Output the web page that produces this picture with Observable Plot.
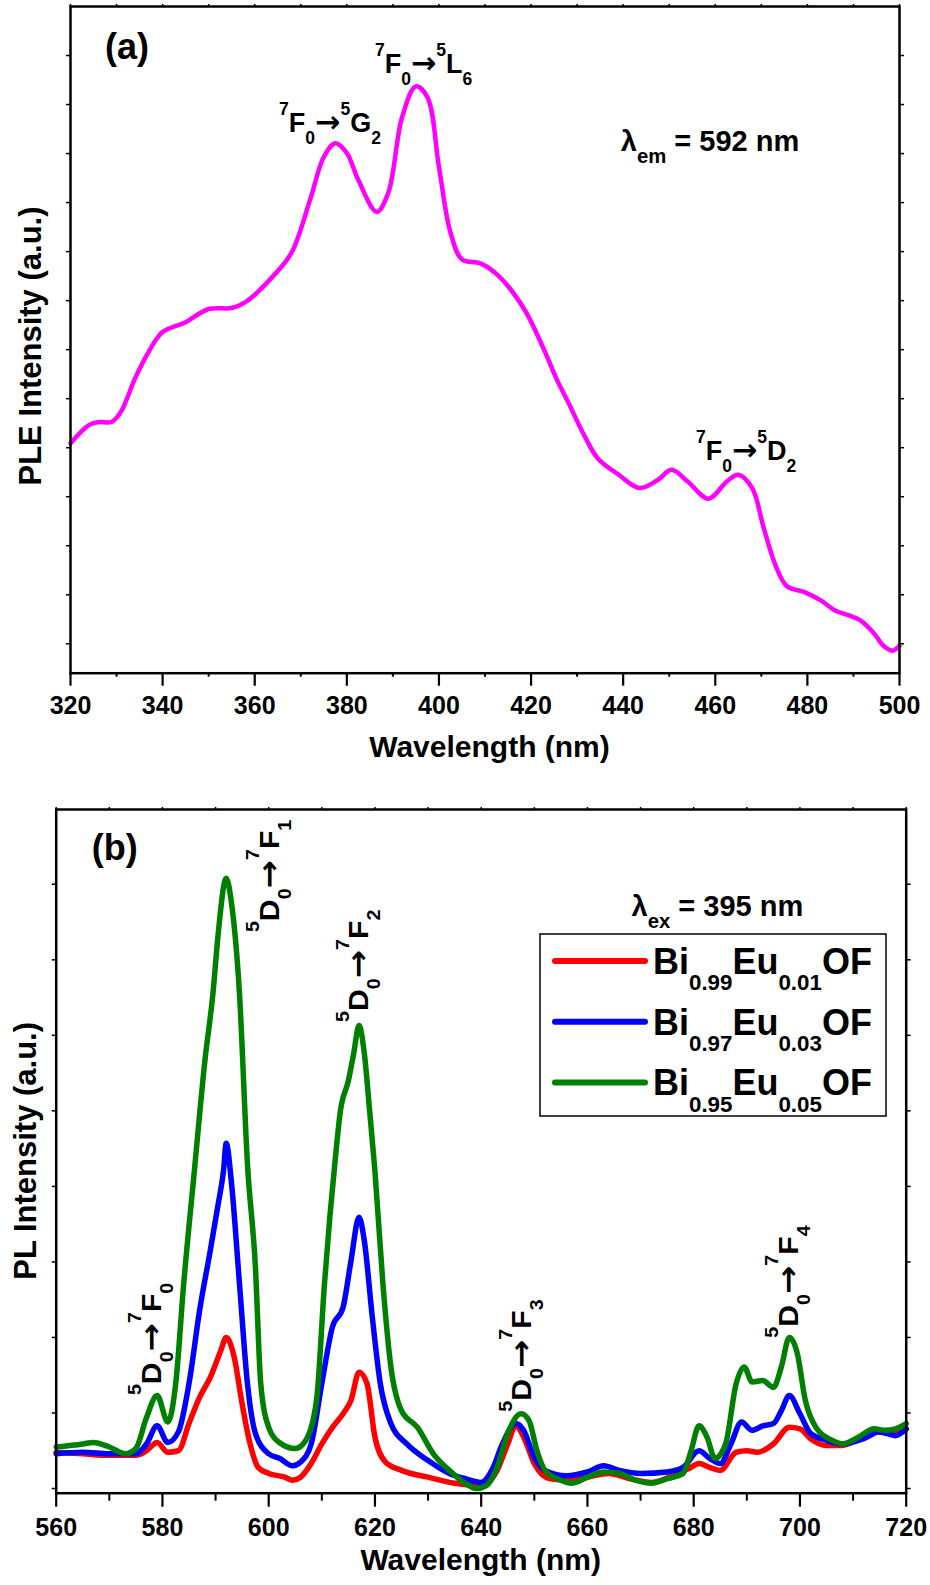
<!DOCTYPE html>
<html><head><meta charset="utf-8">
<script src="https://cdn.jsdelivr.net/npm/d3@7"></script>
<script src="https://cdn.jsdelivr.net/npm/@observablehq/plot@0.6"></script>
<style>
html,body{margin:0;padding:0;background:#fff;}
#wrap{position:relative;width:930px;height:1585px;overflow:hidden;}
#wrap svg{position:absolute;left:0;}
svg text{font-weight:bold;white-space:pre;}
</style></head><body><div id="wrap"></div>
<script>
// ---------- Panel (a): PLE spectrum, lambda_em = 592 nm ----------
const pleWl  = [320,324,326,329,331,334,337,340,345,350,355,358,364,368,372,375,377.5,380,382.5,386.5,389,392,395,397.5,400,402.5,405,409,413,418.5,423,425.5,428,431.5,434.5,439,443.5,447.5,450.5,454,458.5,462.5,465,468,470.5,473,475.5,479.5,483,486,489,491.5,494.5,496.5,498.5,500];
const pleInt = [4.09,4.46,4.52,4.53,4.74,5.41,5.96,6.36,6.56,6.83,6.85,6.97,7.50,7.98,9.05,9.93,10.21,10.01,9.46,8.81,9.20,10.74,11.37,11.15,9.73,8.39,7.84,7.76,7.50,6.83,5.96,5.41,4.94,4.26,3.78,3.45,3.18,3.34,3.55,3.31,2.96,3.31,3.45,3.18,2.37,1.62,1.18,1.05,0.88,0.68,0.58,0.48,0.21,-0.04,-0.14,-0.04];

// ---------- Panel (b): PL spectra, lambda_ex = 395 nm ----------
const redWl   = [560,565,570,575,577,579,581,583,585,587,589,591,592,593.5,595,596.5,598,600,603,604.5,606,608,610,612,614,615.5,617,618.5,620,622,625,630,635,640,643,645,646.5,648,650,653,657,660,664,668,672,676,679,681,683,685,688,690,692,695,698,700,702,705,708,711,714,717,720];
const redInt  = [0.48,0.46,0.44,0.44,0.50,0.61,0.48,0.50,0.86,1.21,1.47,1.83,2.00,1.74,1.12,0.59,0.28,0.20,0.15,0.11,0.15,0.33,0.59,0.81,0.99,1.17,1.54,1.39,0.68,0.35,0.24,0.15,0.07,0.04,0.24,0.59,0.83,0.68,0.33,0.13,0.11,0.15,0.20,0.13,0.08,0.17,0.26,0.33,0.28,0.24,0.48,0.50,0.48,0.59,0.81,0.79,0.66,0.57,0.57,0.66,0.75,0.73,0.79];
const blueWl  = [560,565,570,575,577,579,581,583,585,587,589,590.5,591.5,592,593,594.5,596,597.5,600,602,604.5,606,608,610,612,614,615.5,617,618,619.5,621,623,626,630,634,637,640,642,644,646.5,648,650,652,656,660,663,666,670,675,678,681,683,685,687,689,691,693,695,696.5,698,700,702,705,708,712,715,718,720];
const blueInt = [0.46,0.48,0.46,0.46,0.59,0.83,0.61,0.75,1.39,2.36,3.15,3.77,4.21,4.57,4.04,2.71,1.39,0.73,0.46,0.40,0.30,0.35,0.59,1.39,2.14,2.40,3.02,3.59,3.28,2.27,1.39,0.86,0.59,0.37,0.20,0.13,0.08,0.24,0.59,0.86,0.77,0.41,0.24,0.17,0.22,0.30,0.24,0.20,0.22,0.28,0.50,0.40,0.33,0.59,0.88,0.77,0.83,0.86,1.03,1.23,0.99,0.73,0.64,0.59,0.66,0.75,0.70,0.79];
const greenWl = [560,565,567,570,573,575,577,579,581,582.5,584,586,588,589.5,590.5,592,593,594.5,596,597.5,598.5,600,602,605,607,609,610.5,611.5,612.5,613.5,615,616,617,618,619,620,621.5,623,625,628,631,634,637,639,641,643,645,647.5,649,650.5,652,655,657,660,663,666,669,672,675,678,679.5,681,682.5,684,686,688,689.5,691,693,695,696.5,698,699.5,701,703,706,708,711,714,716,718,720];
const greenInt= [0.55,0.59,0.61,0.55,0.46,0.53,0.94,1.23,0.88,1.39,2.71,4.2,5.67,6.55,7.35,8.08,7.75,6.55,4.3,2.93,1.39,0.81,0.61,0.53,0.64,1.17,2.71,3.59,4.34,5.0,5.40,5.76,6.13,5.76,5.0,4.2,2.71,1.61,1.03,0.81,0.46,0.24,0.07,0.0,0.04,0.28,0.73,0.99,0.90,0.50,0.24,0.11,0.07,0.15,0.22,0.20,0.11,0.07,0.13,0.20,0.50,0.83,0.68,0.40,0.59,1.39,1.61,1.41,1.43,1.34,1.61,2.00,1.79,1.17,0.81,0.64,0.59,0.68,0.79,0.77,0.79,0.86];

const seriesNames  = ["Bi_{0.99}Eu_{0.01}OF", "Bi_{0.97}Eu_{0.03}OF", "Bi_{0.95}Eu_{0.05}OF"];
const seriesColors = ["#ff0000", "#0000ff", "#008000"];

// ---------- ticks ----------
const xMajorA = [320,340,360,380,400,420,440,460,480,500];
const xMinorA = [330,350,370,390,410,430,450,470,490];
const yTicksA = [0,1,2,3,4,5,6,7,8,9,10,11,12];
const xMajorB = [560,580,600,620,640,660,680,700,720];
const xMinorB = [570,590,610,630,650,670,690,710];
const yTicksB = [0,1,2,3,4,5,6,7,8];

// ---------- annotations (data coordinates) ----------
const annA = [
  {t:"(a)", x:327.6, y:11.91, fs:36},
  {t:"^7F_0→^5L_6", x:386.2, y:11.63, fs:27},
  {t:"^7F_0→^5G_2", x:365.4, y:10.43, fs:27},
  {t:"^7F_0→^5D_2", x:455.9, y:3.74, fs:27},
  {t:"λ_{em} = 592 nm", x:439.6, y:10.04, fs:29}
];
const annB = [
  {t:"(b)", x:566.8, y:8.32, fs:36},
  {t:"λ_{ex} = 395 nm", x:668.4, y:7.57, fs:29}
];
const annBrot = [
  {t:"^5D_0→^7F_1", x:602.0, y:7.36},
  {t:"^5D_0→^7F_2", x:618.8, y:6.17},
  {t:"^5D_0→^7F_0", x:579.8, y:1.23},
  {t:"^5D_0→^7F_3", x:649.5, y:1.01},
  {t:"^5D_0→^7F_4", x:699.7, y:1.99}
];

const FONT = '"Liberation Sans", Arial, Helvetica, sans-serif';
const ARROWFONT = '"DejaVu Sans", "Liberation Sans", sans-serif';

function parseRich(s){
  const out=[]; let i=0;
  while(i<s.length){
    const c=s[i];
    if(c==='^'||c==='_'){
      let t; i++;
      if(s[i]==='{'){const j=s.indexOf('}',i); t=s.slice(i+1,j); i=j+1;}
      else {t=s[i]; i++;}
      out.push({t, k:c==='^'?'sup':'sub'});
    } else if(c==='→'){
      out.push({t:c, k:'arr'}); i++;
    } else {
      let j=i; while(j<s.length && s[j]!=='^' && s[j]!=='_' && s[j]!=='→') j++;
      out.push({t:s.slice(i,j), k:'n'}); i=j;
    }
  }
  return out;
}
function addRich(sel, str, fs, o={}){
  const supS = o.sup ?? 0.62, subS = o.sub ?? 0.45, small = o.small ?? 0.65;
  const t = sel.append("text").attr("font-size",fs).attr("font-weight","bold")
    .attr("font-family",FONT).attr("fill","black").attr("text-anchor","start");
  let cur=0;
  for(const p of parseRich(str)){
    const shift = p.k==='sup'? -supS*fs : p.k==='sub'? subS*fs : 0;
    const ts = t.append("tspan").attr("dy", shift-cur).text(p.t);
    if(p.k==='sup'||p.k==='sub') ts.attr("font-size", small*fs);
    else if(p.k==='arr') ts.attr("font-size", 1.12*fs).attr("font-family", ARROWFONT);
    else ts.attr("font-size", fs);
    cur=shift;
  }
  return t;
}

const axStyle = {fontFamily: FONT, background: "white", overflow: "visible"};
const blank = () => "";

// ---------- Plot A ----------
const dataA = pleWl.map((w,i)=>({w, v:pleInt[i]}));
const plotA = Plot.plot({
  width:930, height:785, marginLeft:70, marginRight:31, marginTop:6, marginBottom:112.3,
  x:{domain:[320,500]}, y:{domain:[-0.6,13.0]},
  style:axStyle,
  marks:[
    Plot.axisX({ticks:xMinorA, tickSize:4, tickFormat:blank, label:null, strokeWidth:2}),
    Plot.axisX({ticks:xMajorA, tickSize:13, tickPadding:10, tickFormat:d=>String(d), fontSize:25, fontWeight:"bold", label:null, strokeWidth:2.2}),
    Plot.axisX({anchor:"top", ticks:xMinorA.concat(xMajorA), tickSize:3, tickFormat:blank, label:null, strokeWidth:1.5}),
    Plot.axisY({anchor:"left", ticks:yTicksA, tickSize:4, tickFormat:blank, label:null, strokeWidth:1.5}),
    Plot.axisY({anchor:"right", ticks:yTicksA, tickSize:4, tickFormat:blank, label:null, strokeWidth:1.5}),
    Plot.line(dataA, {x:"w", y:"v", stroke:"#ff00ff", strokeWidth:4.5, curve:"catmull-rom"}),
    Plot.frame({stroke:"black", strokeWidth:2.5})
  ]
});
plotA.style.top = "0px";

// ---------- Plot B ----------
const dataB = [];
[[redWl,redInt],[blueWl,blueInt],[greenWl,greenInt]].forEach(([w,v],k)=>{
  w.forEach((x,i)=>dataB.push({w:x, v:v[i], s:seriesNames[k]}));
});
const plotB = Plot.plot({
  width:930, height:800, marginLeft:55.7, marginRight:24.3, marginTop:24, marginBottom:92.3,
  x:{domain:[560,720]}, y:{domain:[-0.062,8.99]},
  color:{domain:seriesNames, range:seriesColors},
  style:axStyle,
  marks:[
    Plot.axisX({ticks:xMinorB, tickSize:8, tickFormat:blank, label:null, strokeWidth:2}),
    Plot.axisX({ticks:xMajorB, tickSize:14, tickPadding:11, tickFormat:d=>String(d), fontSize:25, fontWeight:"bold", label:null, strokeWidth:2.2}),
    Plot.axisX({anchor:"top", ticks:xMinorB.concat(xMajorB), tickSize:3, tickFormat:blank, label:null, strokeWidth:1.5}),
    Plot.axisY({anchor:"left", ticks:yTicksB, tickSize:4, tickFormat:blank, label:null, strokeWidth:1.5}),
    Plot.axisY({anchor:"right", ticks:yTicksB, tickSize:4, tickFormat:blank, label:null, strokeWidth:1.5}),
    Plot.line(dataB, {x:"w", y:"v", z:"s", stroke:"s", strokeWidth:5.5, curve:"monotone-x"}),
    Plot.frame({stroke:"black", strokeWidth:2.5})
  ]
});
plotB.style.top = "785px";

const wrap = document.getElementById("wrap");
wrap.appendChild(plotA);
wrap.appendChild(plotB);

function axisTitle(g, text, fs, x, y, rotate){
  const t = g.append("text").attr("font-family",FONT).attr("font-weight","bold").attr("font-size",fs)
    .attr("text-anchor","middle").attr("fill","black").text(text);
  if(rotate) t.attr("transform",`translate(${x},${y}) rotate(-90)`).attr("dy","0.36em");
  else t.attr("x",x).attr("y",y);
  return t;
}

// ---------- annotations A ----------
{
  const svg = d3.select(plotA);
  const sx = plotA.scale("x"), sy = plotA.scale("y");
  const g = svg.append("g");
  for(const a of annA){
    addRich(g, a.t, a.fs, a.t.startsWith("λ") ? {small:0.7, sub:0.42} : {})
      .attr("x", sx.apply(a.x)).attr("y", sy.apply(a.y));
  }
  axisTitle(g, "Wavelength (nm)", 30, (70+899)/2 + 5, 756.5, false);
  axisTitle(g, "PLE Intensity (a.u.)", 31, 30, 346, true);
}

// ---------- annotations B ----------
{
  const svg = d3.select(plotB);
  const sx = plotB.scale("x"), sy = plotB.scale("y");
  const g = svg.append("g");
  for(const a of annB){
    addRich(g, a.t, a.fs, a.t.startsWith("λ") ? {small:0.7, sub:0.42} : {})
      .attr("x", sx.apply(a.x)).attr("y", sy.apply(a.y));
  }
  for(const a of annBrot){
    addRich(g, a.t, 27, {sup:0.72, sub:0.45})
      .attr("transform", `translate(${sx.apply(a.x)},${sy.apply(a.y)}) rotate(-90) scale(1.12,1)`);
  }
  axisTitle(g, "Wavelength (nm)", 30, (55.7+905.7)/2, 1569.5-785, false);
  axisTitle(g, "PL Intensity (a.u.)", 31, 25, (809+1492.7)/2-785, true);

  // legend
  const lg = g.append("g").attr("transform","translate(540,149)");
  lg.append("rect").attr("width",346).attr("height",182).attr("fill","white").attr("stroke","black").attr("stroke-width",1.5);
  const color = plotB.scale("color");
  seriesNames.forEach((n,i)=>{
    const yy = 27 + i*60.7;
    lg.append("line").attr("x1",15).attr("x2",105).attr("y1",yy).attr("y2",yy)
      .attr("stroke",color.apply(n)).attr("stroke-width",6).attr("stroke-linecap","round");
    addRich(lg, n, 36, {sub:0.45, small:0.62}).attr("x",113).attr("y",yy+13);
  });
}
</script></body></html>
